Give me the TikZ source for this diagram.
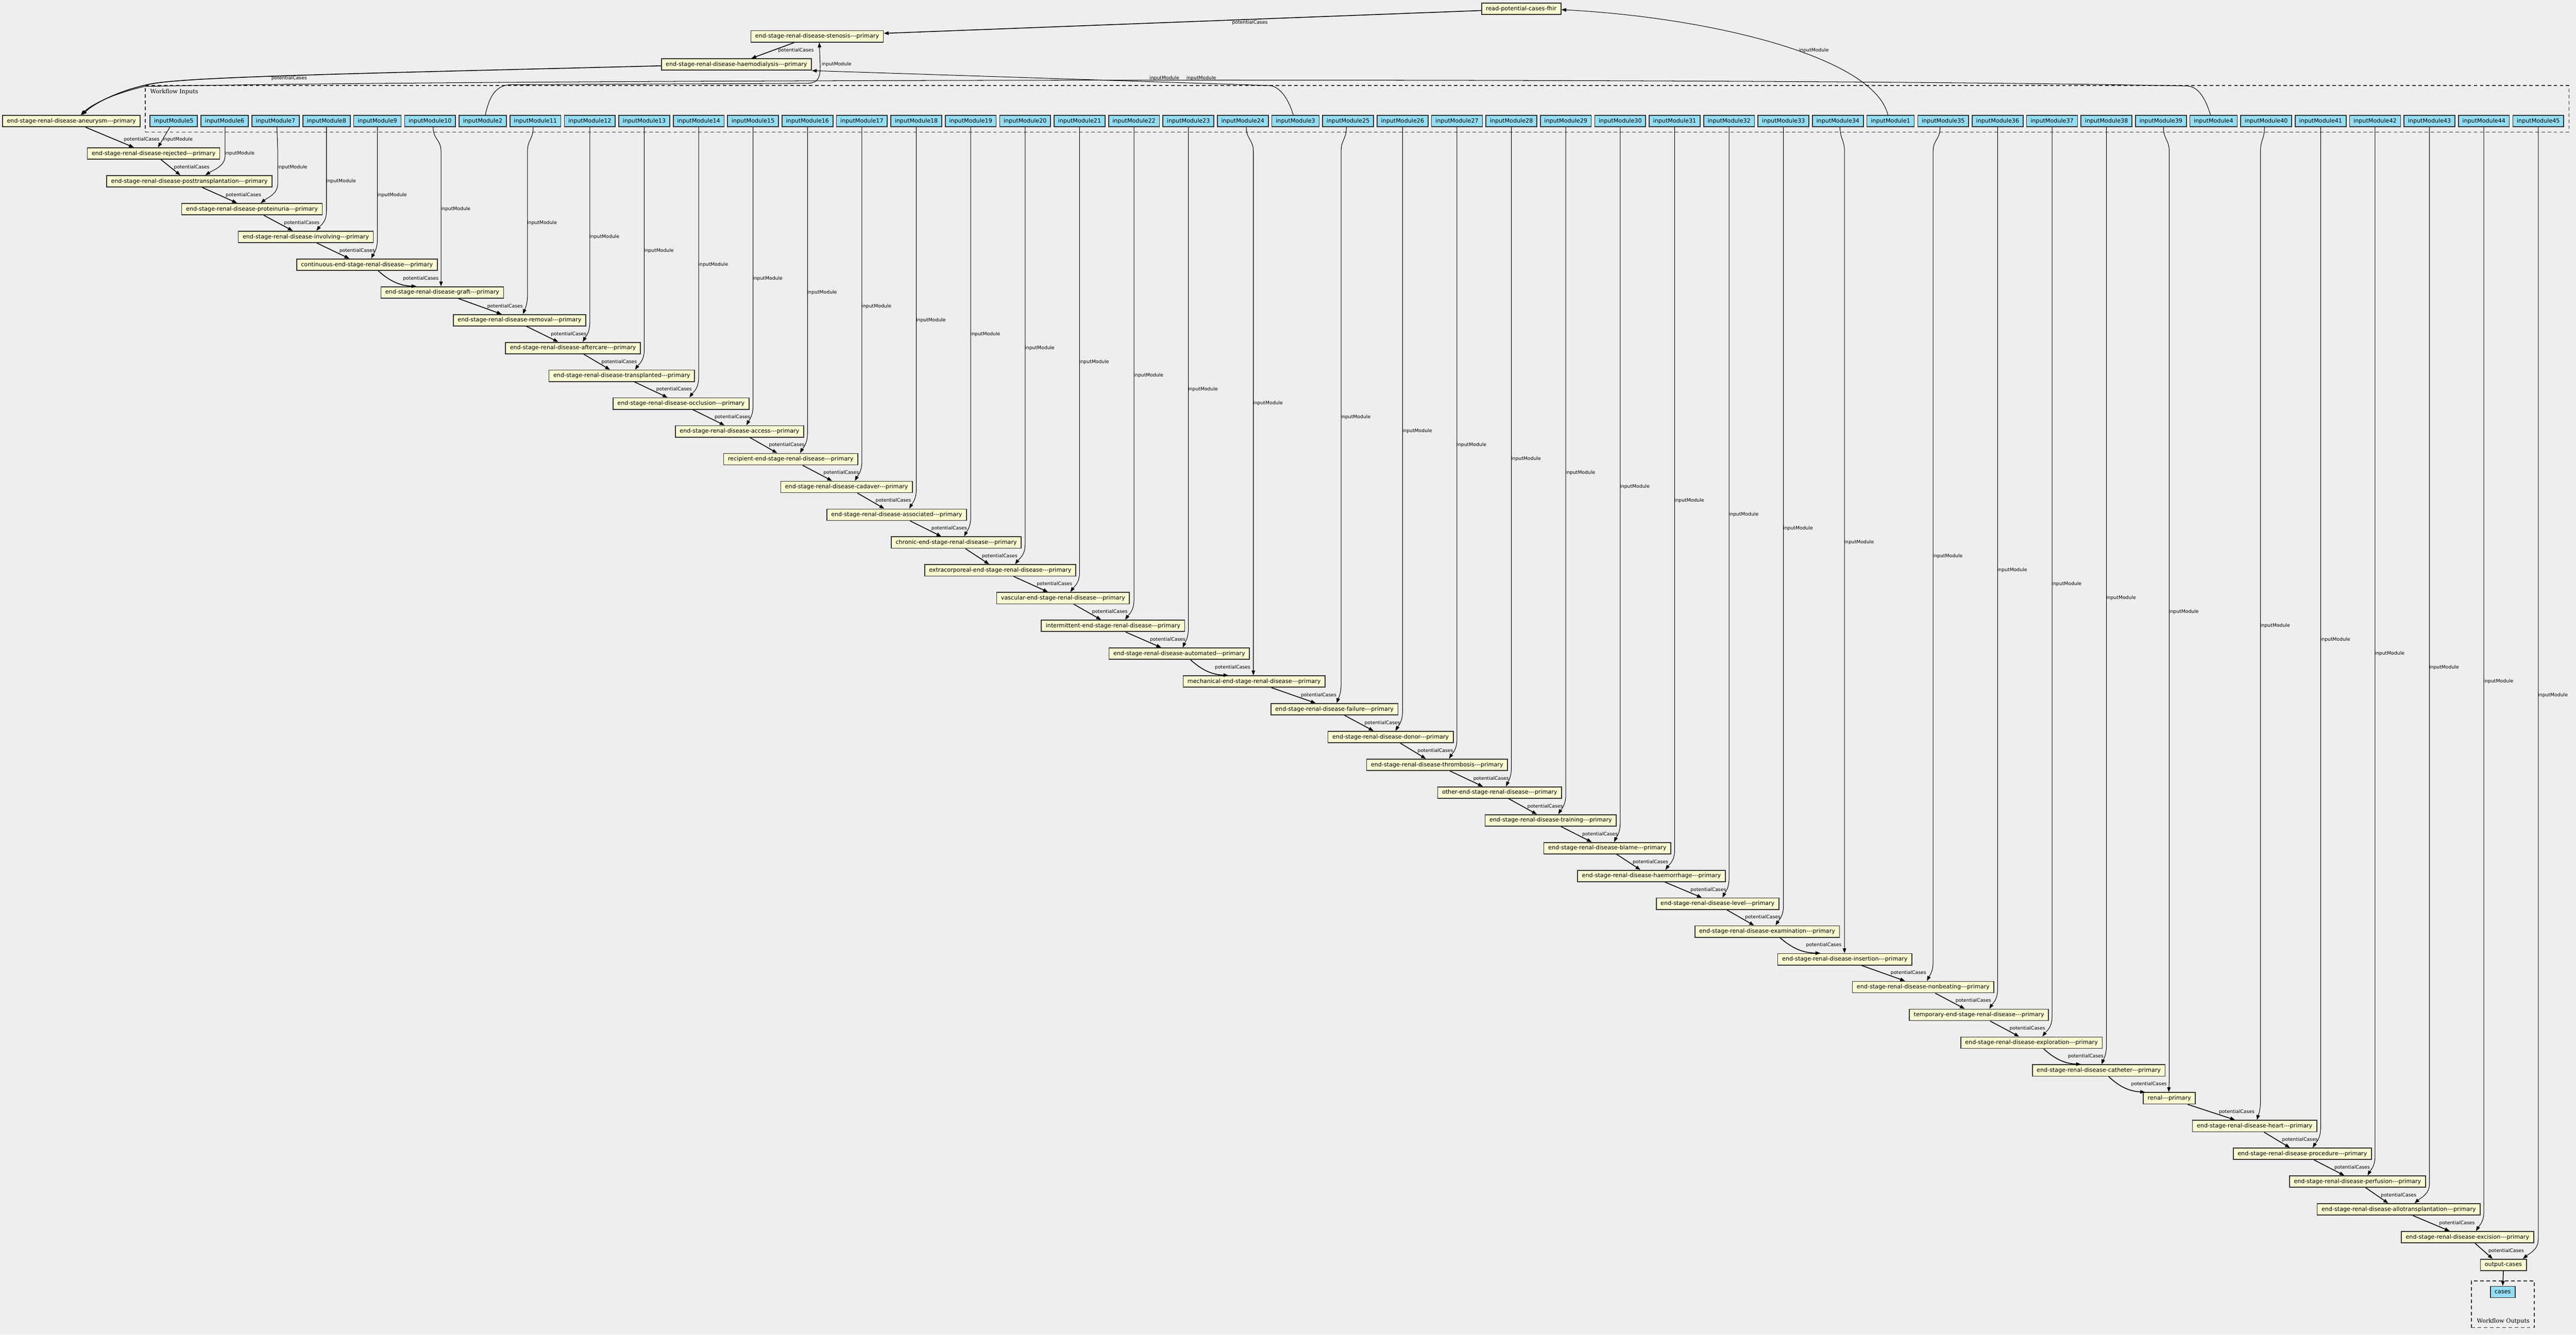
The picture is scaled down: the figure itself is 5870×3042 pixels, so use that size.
\documentclass[tikz,border=0pt]{standalone}
\usepackage{fontspec}
\newfontfamily\dvs{DejaVu Sans}
\newfontfamily\clfont{DejaVu Serif}
\usetikzlibrary{arrows.meta,calc}
\definecolor{bgc}{HTML}{EEEEEE}
\definecolor{stepc}{HTML}{FAFAD2}
\definecolor{inc}{HTML}{94DDF4}
\definecolor{bordc}{HTML}{333333}
\tikzset{
  stepbox/.style={draw=bordc, fill=stepc, line width=1pt, minimum height=13pt, inner xsep=5pt, inner ysep=0pt, anchor=west, font=\dvs\fontsize{6.55pt}{7pt}\selectfont},
  inbox/.style={draw=bordc, fill=inc, line width=1pt, minimum height=13pt, minimum width=54pt, inner sep=0pt, font=\dvs\fontsize{6.55pt}{7pt}\selectfont},
  inboxw/.style={inbox, minimum width=58pt},
  elab/.style={inner sep=0pt, anchor=west, font=\dvs\fontsize{5.45pt}{6pt}\selectfont},
  pcedge/.style={line width=0.9pt, -{Triangle[length=5.5pt,width=4pt]}},
  imedge/.style={line width=0.6pt, -{Triangle[length=5.5pt,width=4pt]}},
  cluster/.style={draw=bordc, dash pattern=on 4pt off 3pt, line width=1pt, inner sep=0pt},
  cllab/.style={inner sep=0pt, font=\clfont\fontsize{6.55pt}{7pt}\selectfont},
}
\begin{document}
\begin{tikzpicture}[x=0.5pt,y=-0.5pt]
\fill[bgc] (0,0) rectangle (5870,3042);
\useasboundingbox (0,0) rectangle (5870,3042);
% clusters
\node[cluster, minimum width=2761.5pt, minimum height=53pt] (wfin) at (3092.5,248) {};
\node[cllab, anchor=west] (wfinlab) at (342,209) {Workflow Inputs};
\node[cluster, minimum width=71.5pt, minimum height=53pt] (wfout) at (5703.5,2973) {};
\node[cllab] (wfoutlab) at (5704,3012) {Workflow Outputs};
% inputs
\foreach \nn/\cc in {5/396,6/512,7/628,8/744,9/860,2/1100,3/2952,1/4308,4/5044}
  \node[inbox] (in\nn) at (\cc,276) {inputModule\nn};
\node[inboxw] (in10) at (980,276) {inputModule10};
\foreach \nn in {11,...,24}{
  \pgfmathsetmacro\cc{1220+124*(\nn-11)}
  \node[inboxw] (in\nn) at (\cc,276) {inputModule\nn};
}
\foreach \nn in {25,...,34}{
  \pgfmathsetmacro\cc{3072+124*(\nn-25)}
  \node[inboxw] (in\nn) at (\cc,276) {inputModule\nn};
}
\foreach \nn in {35,...,39}{
  \pgfmathsetmacro\cc{4428+124*(\nn-35)}
  \node[inboxw] (in\nn) at (\cc,276) {inputModule\nn};
}
\foreach \nn in {40,...,45}{
  \pgfmathsetmacro\cc{5164+124*(\nn-40)}
  \node[inboxw] (in\nn) at (\cc,276) {inputModule\nn};
}
% top steps
\node[stepbox] (read) at (3375,20) {read-potential-cases-fhir};
\node[stepbox] (sten) at (1710,83) {end-stage-renal-disease-stenosis---primary};
\node[stepbox] (haemo) at (1506,147) {end-stage-renal-disease-haemodialysis---primary};
\node[stepbox] (aneu) at (5,276) {end-stage-renal-disease-aneurysm---primary};
% chain steps
\foreach \kk/\xl/\txt in {0/197/end-stage-renal-disease-rejected---primary,
1/241/end-stage-renal-disease-posttransplantation---primary,
2/412/end-stage-renal-disease-proteinuria---primary,
3/541/end-stage-renal-disease-involving---primary,
4/674/continuous-end-stage-renal-disease---primary,
5/866/end-stage-renal-disease-graft---primary,
6/1031/end-stage-renal-disease-removal---primary,
7/1150/end-stage-renal-disease-aftercare---primary,
8/1249/end-stage-renal-disease-transplanted---primary,
9/1395/end-stage-renal-disease-occlusion---primary,
10/1537/end-stage-renal-disease-access---primary,
11/1647/recipient-end-stage-renal-disease---primary,
12/1777/end-stage-renal-disease-cadaver---primary,
13/1882/end-stage-renal-disease-associated---primary,
14/2029/chronic-end-stage-renal-disease---primary,
15/2105/extracorporeal-end-stage-renal-disease---primary,
16/2269/vascular-end-stage-renal-disease---primary,
17/2371/intermittent-end-stage-renal-disease---primary,
18/2525/end-stage-renal-disease-automated---primary,
19/2694/mechanical-end-stage-renal-disease---primary,
20/2894/end-stage-renal-disease-failure---primary,
21/3024/end-stage-renal-disease-donor---primary,
22/3112/end-stage-renal-disease-thrombosis---primary,
23/3274/other-end-stage-renal-disease---primary,
24/3382/end-stage-renal-disease-training---primary,
25/3516/end-stage-renal-disease-blame---primary,
26/3593/end-stage-renal-disease-haemorrhage---primary,
27/3772/end-stage-renal-disease-level---primary,
28/3860/end-stage-renal-disease-examination---primary,
29/4049/end-stage-renal-disease-insertion---primary,
30/4219/end-stage-renal-disease-nonbeating---primary,
31/4349/temporary-end-stage-renal-disease---primary,
32/4466/end-stage-renal-disease-exploration---primary,
33/4629/end-stage-renal-disease-catheter---primary,
34/4882/renal---primary,
35/4994/end-stage-renal-disease-heart---primary,
36/5087/end-stage-renal-disease-procedure---primary,
37/5215/end-stage-renal-disease-perfusion---primary,
38/5278/end-stage-renal-disease-allotransplantation---primary,
39/5470/end-stage-renal-disease-excision---primary,
40/5650/output-cases}{
  \pgfmathsetmacro\yy{350+63.333*\kk}
  \node[stepbox] (s\kk) at (\xl+1,\yy) {\txt};
}
\node[inbox, minimum width=28pt] (cases) at (5703,2945) {cases};
% top edges
\draw[pcedge] ($(read.west)+(0,4)$) -- ($(sten.east)+(0,-7)$);
\node[elab, anchor=center] (plread) at (2848,52) {potentialCases};
\draw[imedge] (4302,0 |- in1.north) .. controls (4270,130) and (3900,40) .. ($(read.east)+(0,2)$);
\node[elab] (il1) at (4099,115) {inputModule};
\draw[pcedge] (1810,0 |- sten.south) -- (1712,0 |- haemo.north);
\node[elab] (plsten) at (1773,115) {potentialCases};
\draw[imedge] (1106,0 |- in2.north) .. controls (1116,215) and (1132,194) .. (1165,193) -- (1840,190) .. controls (1866,189) and (1869,175) .. (1869,150) -- (1867,0 |- sten.south);
\node[elab] (il2) at (1872,147) {inputModule};
\draw[pcedge] ($(haemo.west)+(0,3)$) .. controls (800,168) and (420,175) .. (340,192) .. controls (270,207) and (215,235) .. (187,0 |- aneu.north);
\node[elab] (plhaemo) at (618,178) {potentialCases};
\draw[imedge] (5037,0 |- in4.north) .. controls (5025,222) and (5008,197) .. (4984,196) .. controls (4000,176) and (1200,180) .. (330,197) .. controls (265,212) and (212,235) .. (184,0 |- aneu.north);
\node[elab] (il4) at (2703,178) {inputModule};
\draw[imedge] (2947,0 |- in3.north) .. controls (2935,222) and (2915,197) .. (2893,195) -- (haemo.south east);
\node[elab] (il3) at (2619,178) {inputModule};
\draw[pcedge] (195,0 |- aneu.south) -- (305,0 |- s0.north);
\node[elab] (pl0) at (282,318) {potentialCases};
\draw[imedge] (387,0 |- in5.south) -- (360,0 |- s0.north);
\node[elab] (il5) at (371,318) {inputModule};
% chain edges
\foreach \kk/\ox/\ix/\bb/\lx in {1/367/411/0/396,2/461/540/0/514,3/601/667/0/647,4/722/796/0/773,
5/862/949/20/918,6/1045/1143/0/1110,7/1200/1272/0/1255,8/1330/1390/0/1370,9/1446/1521/0/1495,
10/1579/1651/0/1628,11/1709/1771/0/1752,12/1829/1896/0/1876,13/1954/2015/0/1995,14/2074/2145/0/2122,
15/2200/2254/0/2237,16/2310/2388/0/2362,17/2447/2509/0/2488,18/2565/2646/0/2620,19/2713/2799/20/2768,
20/2897/2998/0/2964,21/3064/3130/0/3109,22/3191/3249/0/3230,23/3304/3379/0/3357,24/3438/3502/0/3480,
25/3557/3627/0/3605,26/3684/3738/0/3720,27/3794/3878/0/3852,28/3935/3997/0/3976,29/4056/4148/20/4115,
30/4242/4341/0/4308,31/4410/4477/0/4456,32/4535/4601/0/4579,33/4657/4742/20/4712,34/4805/4888/20/4856,
35/4985/5093/0/5056,36/5159/5218/0/5200,37/5273/5342/0/5319,38/5391/5442/0/5425,39/5498/5582/0/5558,
40/5640/5680/0/5670}{
  \pgfmathtruncatemacro\pp{\kk-1}
  \pgfmathsetmacro\ly{318+63.333*\kk}
  \draw[pcedge] (\ox,0 |- s\pp.south) to[bend right=\bb] (\ix,0 |- s\kk.north);
  \node[elab] (pl\kk) at (\lx,\ly) {potentialCases};
}
% input edges
\foreach \kk/\sx/\xv/\ax in {6/513/513/468,7/631/633/594,8/744/744/721,9/860/860/846,10/987/1005/1005,
11/1215/1202/1192,12/1344/1344/1328,13/1468/1468/1447,14/1592/1592/1571,15/1716/1716/1701,
16/1840/1840/1823,17/1964/1964/1948,18/2088/2088/2072,19/2212/2212/2197,20/2336/2336/2313,
21/2460/2460/2439,22/2584/2584/2564,23/2708/2708/2695,24/2840/2856/2856,25/3068/3056/3046,
26/3196/3196/3180,27/3320/3320/3302,28/3444/3444/3432,29/3568/3568/3551,30/3692/3692/3678,
31/3816/3816/3795,32/3940/3940/3925,33/4064/4064/4046,34/4193/4203/4203,35/4421/4405/4391,
36/4552/4552/4533,37/4676/4676/4654,38/4800/4800/4789,39/4930/4943/4942,40/5160/5151/5143,
41/5288/5288/5270,42/5412/5412/5395,43/5536/5536/5502,44/5660/5660/5642,45/5784/5784/5749}{
  \pgfmathtruncatemacro\jj{\kk-5}
  \pgfmathsetmacro\tp{336+63.333*\jj}
  \pgfmathsetmacro\ya{\tp-45}
  \pgfmathsetmacro\yb{\tp-20}
  \pgfmathsetmacro\yq{\tp-12}
  \pgfmathsetmacro\cx{\ax+0.4*(\xv-\ax)}
  \pgfmathsetmacro\ly{(290+\tp)/2+5}
  \draw[imedge] (\sx,0 |- in\kk.south) .. controls (\sx,318) and (\xv,318) .. (\xv,345) -- (\xv,\ya) .. controls (\xv,\yb) and (\cx,\yq) .. (\ax,0 |- s\jj.north);
  \node[elab] (il\kk) at (\xv-1,\ly) {inputModule};
}
\draw[pcedge] (s40.south) -- (cases.north);
\end{tikzpicture}
\end{document}
